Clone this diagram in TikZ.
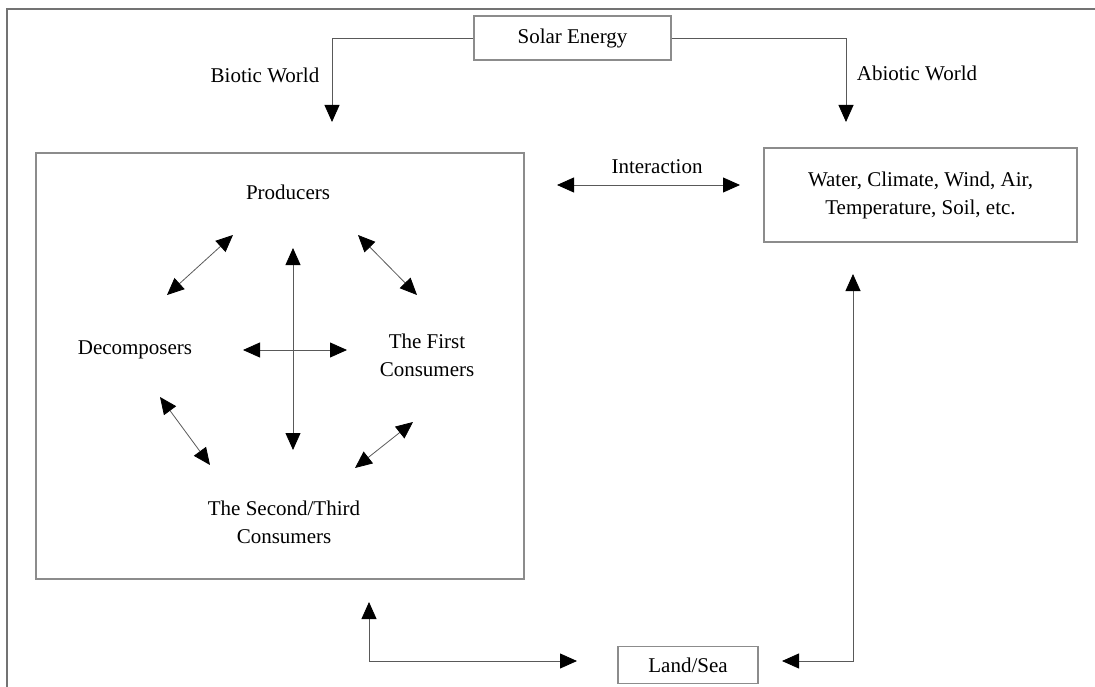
\documentclass[tikz,border=0pt]{standalone}
\usepackage{fontspec}
\setmainfont{Liberation Serif}
\usetikzlibrary{arrows.meta}
\tikzset{
  box/.style={draw=black!45, line width=1.1pt, inner sep=0pt, align=center},
  lbl/.style={inner sep=0pt, align=center},
  link/.style={draw=black!65, line width=0.8pt},
  tip/.style={-{Triangle[length=17pt,width=15pt,color=black]}},
  tips/.style={{Triangle[length=17pt,width=15pt,color=black]}-{Triangle[length=17pt,width=15pt,color=black]}}
}
\begin{document}
\begin{tikzpicture}[x=1pt,y=-1pt,font=\fontsize{21}{28}\selectfont]
\useasboundingbox (0,0) rectangle (1095,687);
% frame
\draw[black!55, line width=1.3pt] (7,687) -- (7,9) -- (1095,9);

% nodes
\node[box, minimum width=197pt, minimum height=44pt] (solar) at (572.5,38) {Solar Energy};
\node[box, minimum width=488pt, minimum height=426pt] (biobox) at (280,366) {};
\node[box, minimum width=313pt, minimum height=94pt] (abio) at (920.5,195) {Water, Climate, Wind, Air,\\Temperature, Soil, etc.};
\node[box, minimum width=140pt, minimum height=37pt] (land) at (688,665) {Land/Sea};

\node[lbl] (biotic) at (265,75) {Biotic World};
\node[lbl] (abiotic) at (917,73) {Abiotic World};
\node[lbl] (inter) at (657,167) {Interaction};

\node[lbl] (prod) at (288,192) {Producers};
\node[lbl] (decomp) at (135,350) {Decomposers};
\node[lbl] (first) at (427,355) {The First\\Consumers};
\node[lbl] (second) at (284,522) {The Second/Third\\Consumers};

% free ends
\coordinate (bioin) at (332,122);
\coordinate (abioin) at (846,122);
\coordinate (ia1) at (557,185);
\coordinate (ia2) at (740,185);
\coordinate (wup) at (853,274);
\coordinate (lright) at (782,661);
\coordinate (bup) at (369,602);
\coordinate (lleft) at (577,661);

\coordinate (d1a) at (167,295); \coordinate (d1b) at (233,235);
\coordinate (d2a) at (358,235); \coordinate (d2b) at (417,295);
\coordinate (d3a) at (160,397); \coordinate (d3b) at (210,465);
\coordinate (d4a) at (413,422); \coordinate (d4b) at (355,468);
\coordinate (vt) at (293,248); \coordinate (vb) at (293,450);
\coordinate (hl) at (243,350); \coordinate (hr) at (347,350);

% connectors
\draw[link,tip] (solar.west) -| (bioin);
\draw[link,tip] (solar.east) -| (abioin);
\draw[link,tips] (ia1) -- (ia2);
\draw[link,tips] (wup) |- (lright);
\draw[link,tips] (bup) |- (lleft);

\draw[link,tips] (d1a) -- (d1b);
\draw[link,tips] (d2a) -- (d2b);
\draw[link,tips] (d3a) -- (d3b);
\draw[link,tips] (d4a) -- (d4b);
\draw[link,tips] (vt) -- (vb);
\draw[link,tips] (hl) -- (hr);
\end{tikzpicture}
\end{document}
